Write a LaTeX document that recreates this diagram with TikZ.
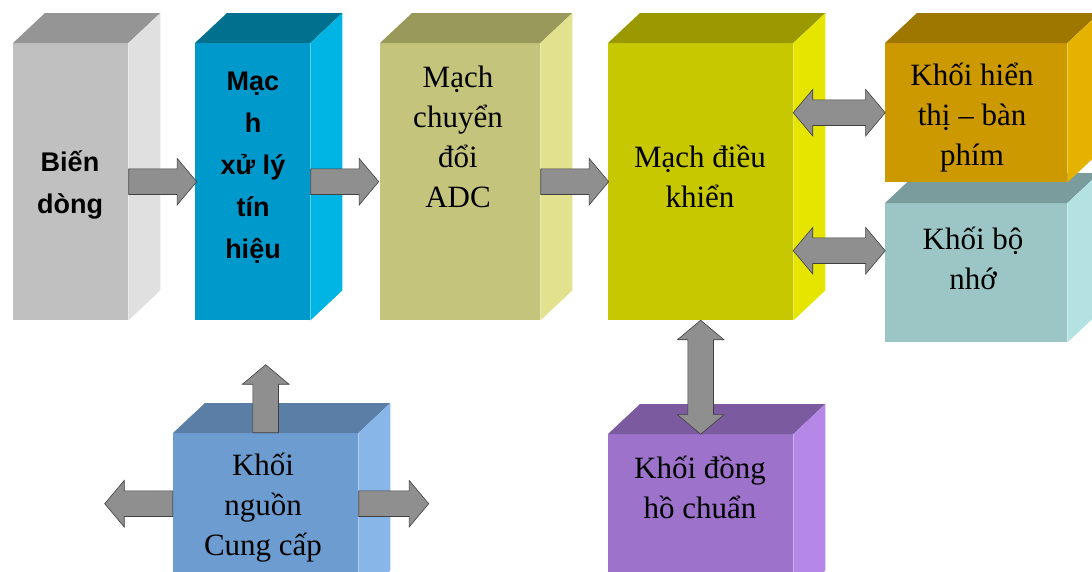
\documentclass[tikz,border=0pt]{standalone}
\usepackage{fontspec}
\setmainfont{Liberation Serif}
\newfontfamily\blocksans{Liberation Sans}
\usetikzlibrary{calc,shapes.arrows}
\definecolor{bienF}{HTML}{C0C0C0}
\definecolor{bienT}{HTML}{959595}
\definecolor{bienS}{HTML}{E0E0E0}
\definecolor{xulyF}{HTML}{0099CC}
\definecolor{xulyT}{HTML}{00708F}
\definecolor{xulyS}{HTML}{00B4E4}
\definecolor{adcF}{HTML}{C4C47C}
\definecolor{adcT}{HTML}{99995C}
\definecolor{adcS}{HTML}{E1E18E}
\definecolor{dkF}{HTML}{C8C800}
\definecolor{dkT}{HTML}{9A9A00}
\definecolor{dkS}{HTML}{E5E500}
\definecolor{htF}{HTML}{CC9900}
\definecolor{htT}{HTML}{9E7700}
\definecolor{htS}{HTML}{E6B200}
\definecolor{bnF}{HTML}{9CC6C6}
\definecolor{bnT}{HTML}{7A9C9C}
\definecolor{bnS}{HTML}{B4E2E2}
\definecolor{ngF}{HTML}{6D9CD0}
\definecolor{ngT}{HTML}{5A7EA6}
\definecolor{ngS}{HTML}{88B6E8}
\definecolor{dhF}{HTML}{9D72CB}
\definecolor{dhT}{HTML}{7B5A9F}
\definecolor{dhS}{HTML}{B587E6}
\definecolor{arrowgray}{HTML}{8F8F8F}
\def\Dx{32}
\def\Dy{30}
% top and side faces of a block, #1 = front node
\newcommand{\drawblock}[3]{%
  \fill[#2] (#1.north west) -- ++(\Dx,-\Dy) -- ($(#1.north east)+(\Dx,-\Dy)$) -- (#1.north east) -- cycle;
  \fill[#3] (#1.north east) -- ++(\Dx,-\Dy) -- ($(#1.south east)+(\Dx,-\Dy)$) -- (#1.south east) -- cycle;
}

\begin{document}
\begin{tikzpicture}[x=1pt, y=-1pt,
  block/.style={inner sep=0pt, anchor=north west},
  serif/.style={align=center, font=\fontsize{31}{40}\selectfont},
  sans/.style={align=center, font=\blocksans\bfseries\fontsize{27}{42}\selectfont},
  onearrow/.style={single arrow, draw=black!75, fill=arrowgray, line width=0.6pt, inner xsep=0pt, inner ysep=12.5pt,
    minimum width=46pt, single arrow head extend=10.5pt, single arrow tip angle=100, single arrow head indent=0pt},
  twoarrow/.style={double arrow, draw=black!75, fill=arrowgray, line width=0.6pt, inner xsep=0pt, inner ysep=12.5pt,
    minimum width=46pt, double arrow head extend=10.5pt, double arrow tip angle=100, double arrow head indent=0pt}]
\useasboundingbox (0,0) rectangle (1092,571);
\clip (0,0) rectangle (1092,571);

% blocks
\node[block, fill=bienF, minimum width=115pt, minimum height=277pt] (bien) at (13,43) {};
\drawblock{bien}{bienT}{bienS}
\node[block, fill=xulyF, minimum width=115pt, minimum height=277pt] (xuly) at (195,43) {};
\drawblock{xuly}{xulyT}{xulyS}
\node[block, fill=adcF, minimum width=160pt, minimum height=277pt] (adc) at (380,43) {};
\drawblock{adc}{adcT}{adcS}
\node[block, fill=dkF, minimum width=185pt, minimum height=277pt] (dk) at (608,43) {};
\drawblock{dk}{dkT}{dkS}
\node[block, fill=bnF, minimum width=182pt, minimum height=139pt] (bonho) at (885,203) {};
\drawblock{bonho}{bnT}{bnS}
\node[block, fill=htF, minimum width=182pt, minimum height=139pt] (hienthi) at (885,43) {};
\drawblock{hienthi}{htT}{htS}
\node[block, fill=ngF, minimum width=185pt, minimum height=167pt] (nguon) at (173,433) {};
\drawblock{nguon}{ngT}{ngS}
\node[block, fill=dhF, minimum width=185pt, minimum height=166pt] (dongho) at (608,434) {};
\drawblock{dongho}{dhT}{dhS}

% texts
\node[sans] (tbien) at (70,185) {Biến\\dòng};
\node[sans] (txuly) at (253,168) {Mạc\\h\\xử lý\\tín\\hiệu};
\node[serif] (tadc) at (458,137) {Mạch\\chuyển\\đổi\\ADC};
\node[serif] (tdk) at (700,176) {Mạch điều\\khiển};
\node[serif] (tht) at (972,118) {Khối hiển\\thị -- bàn\\phím};
\node[serif] (tbn) at (973,258) {Khối bộ\\nhớ};
\node[serif] (tng) at (263,508) {Khối\\nguồn\\Cung cấp};
\node[serif] (tdh) at (700,487) {Khối đồng\\hồ chuẩn};

% arrows
\node[onearrow, minimum height=68pt, anchor=tail] (a1) at (bien.east) {};
\node[onearrow, minimum height=68pt, anchor=tail] (a2) at (xuly.east) {};
\node[onearrow, minimum height=68pt, anchor=tail] (a3) at (adc.east) {};
\node[twoarrow, minimum height=92pt] (d1) at ($(dk.east |- hienthi.west)!.5!(hienthi.west)$) {};
\node[twoarrow, minimum height=92pt] (d2) at ($(dk.east |- bonho.west)!.5!(bonho.west)+(0,-22)$) {};
\node[twoarrow, minimum height=114pt, rotate=90] (d3) at ($(dk.south)!.5!(dongho.north)$) {};
\node[onearrow, minimum height=68pt, rotate=90, anchor=tail] (aup) at (nguon.north) {};
\node[onearrow, minimum height=68pt, rotate=180, anchor=tail] (aleft) at ($(nguon.west)+(0,-13)$) {};
\node[onearrow, minimum height=70pt, anchor=tail] (aright) at ($(nguon.east)+(0,-13)$) {};
\end{tikzpicture}
\end{document}
